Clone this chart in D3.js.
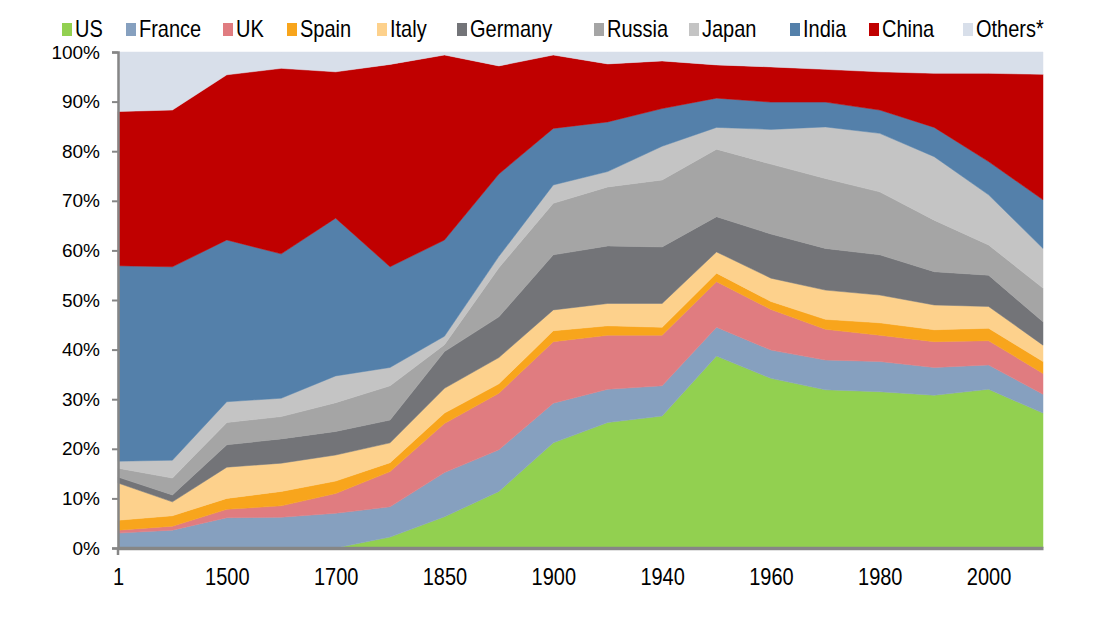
<!DOCTYPE html>
<html>
<head>
<meta charset="utf-8">
<script src="https://cdn.jsdelivr.net/npm/d3@7"></script>
<style>
  html, body { margin: 0; padding: 0; background: #fff; }
  svg text { font-family: "Liberation Sans", Arial, sans-serif; fill: #000; }
</style>
</head>
<body>
<svg id="chart" width="1102" height="620"></svg>
<script>
// ---- data ----
const years = ["1", "1000", "1500", "1600", "1700", "1820", "1850", "1870", "1900", "1913",
               "1940", "1950", "1960", "1970", "1980", "1990", "2000", "2008"];
const tickYears = ["1", "1500", "1700", "1850", "1900", "1940", "1960", "1980", "2000"];
const yTicks = [0, 10, 20, 30, 40, 50, 60, 70, 80, 90, 100];
const seriesNames = ["US", "France", "UK", "Spain", "Italy", "Germany", "Russia", "Japan", "India", "China", "Others*"];

const us      = [0, 0, 0, 0, 0, 2.2, 6.3, 11.4, 21.2, 25.3, 26.6, 38.7, 34.2, 31.9, 31.5, 30.8, 32.0, 27.2];
const france  = [3.0, 3.6, 6.1, 6.2, 7.0, 6.1, 8.9, 8.4, 8.0, 6.7, 6.1, 5.8, 5.7, 6.0, 6.1, 5.6, 4.9, 3.8];
const uk      = [0.6, 0.8, 1.7, 2.3, 4.0, 7.1, 9.9, 11.4, 12.4, 10.9, 10.2, 9.2, 8.2, 6.2, 5.3, 5.2, 4.9, 4.2];
const spain   = [2.0, 2.1, 2.2, 2.9, 2.5, 1.8, 2.1, 1.9, 2.2, 1.9, 1.6, 1.7, 1.6, 2.0, 2.5, 2.4, 2.5, 2.4];
const italy   = [7.5, 2.8, 6.3, 5.7, 5.25, 4.0, 5.0, 5.3, 4.2, 4.5, 4.8, 4.3, 4.7, 5.9, 5.6, 5.0, 4.4, 3.3];
const germany = [1.2, 1.4, 4.5, 4.9, 4.75, 4.6, 7.4, 8.2, 11.1, 11.6, 11.4, 7.1, 8.9, 8.4, 8.1, 6.7, 6.3, 4.7];
const russia  = [1.8, 3.4, 4.5, 4.5, 5.8, 6.9, 1.4, 9.9, 10.4, 11.9, 13.5, 13.6, 14.1, 14.1, 12.7, 10.4, 6.1, 6.8];
const japan   = [1.4, 3.6, 4.2, 3.7, 5.4, 3.7, 1.7, 2.3, 3.7, 3.1, 6.8, 4.4, 7.0, 10.4, 11.8, 12.8, 10.1, 8.0];
const india   = [39.4, 39.0, 32.6, 29.1, 31.8, 20.3, 19.4, 16.6, 11.4, 10.0, 7.6, 5.9, 5.5, 5.0, 4.7, 5.9, 6.7, 9.8];
const china   = [31.1, 31.6, 33.3, 37.4, 29.5, 40.8, 37.3, 21.8, 14.8, 11.7, 9.6, 6.7, 7.1, 6.6, 7.7, 10.9, 17.8, 25.3];
const others  = [12.0, 11.7, 4.6, 3.3, 4.0, 2.5, 0.6, 2.8, 0.6, 2.4, 1.8, 2.6, 3.0, 3.5, 4.0, 4.3, 4.3, 4.5];

const seriesValues = [us, france, uk, spain, italy, germany, russia, japan, india, china, others];

// ---- styles / layout ----
const colors = ["#92D050", "#86A0BF", "#E07C80", "#F8A51C", "#FDD18C", "#737478",
                "#A5A5A5", "#C4C4C4", "#5480AA", "#C00000", "#D8DFEA"];
const legendX = [62, 126, 223, 287, 377, 457, 594, 689, 790, 869, 963];
const axisColor = "#868686";
const plotLeft = 118, plotRight = 1043, plotTop = 52, plotBottom = 548;
const textStretch = 1.16;

// build table
const table = years.map((yr, i) => {
  const row = { year: yr };
  seriesNames.forEach((n, k) => { row[n] = seriesValues[k][i]; });
  return row;
});

const svg = d3.select("#chart");

const x = d3.scalePoint().domain(years).range([plotLeft, plotRight]).padding(0);
const y = d3.scaleLinear().domain([0, 100]).range([plotBottom, plotTop]);

const layers = d3.stack().keys(seriesNames)(table);

const area = d3.area()
  .x(d => x(d.data.year))
  .y0(d => y(d[0]))
  .y1(d => y(d[1]));

svg.append("g").selectAll("path")
  .data(layers)
  .join("path")
  .attr("d", area)
  .attr("fill", (d, i) => colors[i])
  .attr("stroke", (d, i) => colors[i])
  .attr("stroke-width", 0.5);

// y axis
const yAxis = svg.append("g")
  .attr("transform", `translate(${plotLeft},0)`)
  .call(d3.axisLeft(y).tickValues(yTicks).tickFormat(d => d + "%").tickSize(6).tickPadding(12));
yAxis.select(".domain").attr("stroke", axisColor).attr("stroke-width", 2.5);
yAxis.selectAll(".tick line").attr("stroke", axisColor).attr("stroke-width", 2);
yAxis.selectAll(".tick text").attr("font-size", 19).attr("font-family", "Liberation Sans, Arial, sans-serif");

// x axis
const xAxis = svg.append("g")
  .attr("transform", `translate(0,${plotBottom})`)
  .call(d3.axisBottom(x).tickValues(tickYears).tickSize(0));
xAxis.select(".domain").attr("stroke", axisColor).attr("stroke-width", 3.5);
xAxis.selectAll(".tick text")
  .attr("font-size", 20)
  .attr("font-family", "Liberation Sans, Arial, sans-serif")
  .attr("y", 0).attr("dy", 0)
  .attr("transform", `translate(0,37) scale(1,${textStretch})`);
svg.append("line")
  .attr("x1", x(years[0])).attr("x2", x(years[0]))
  .attr("y1", plotBottom).attr("y2", plotBottom + 7)
  .attr("stroke", axisColor).attr("stroke-width", 2.5);

// legend
const legend = svg.append("g");
seriesNames.forEach((n, i) => {
  const g = legend.append("g").attr("transform", `translate(${legendX[i]},0)`);
  g.append("rect").attr("x", 0).attr("y", 23).attr("width", 10).attr("height", 13).attr("fill", colors[i]);
  g.append("text").attr("x", 0).attr("y", 0)
    .attr("transform", `translate(13,37) scale(1,${textStretch})`)
    .attr("font-size", 20).text(n);
});
</script>
</body>
</html>
